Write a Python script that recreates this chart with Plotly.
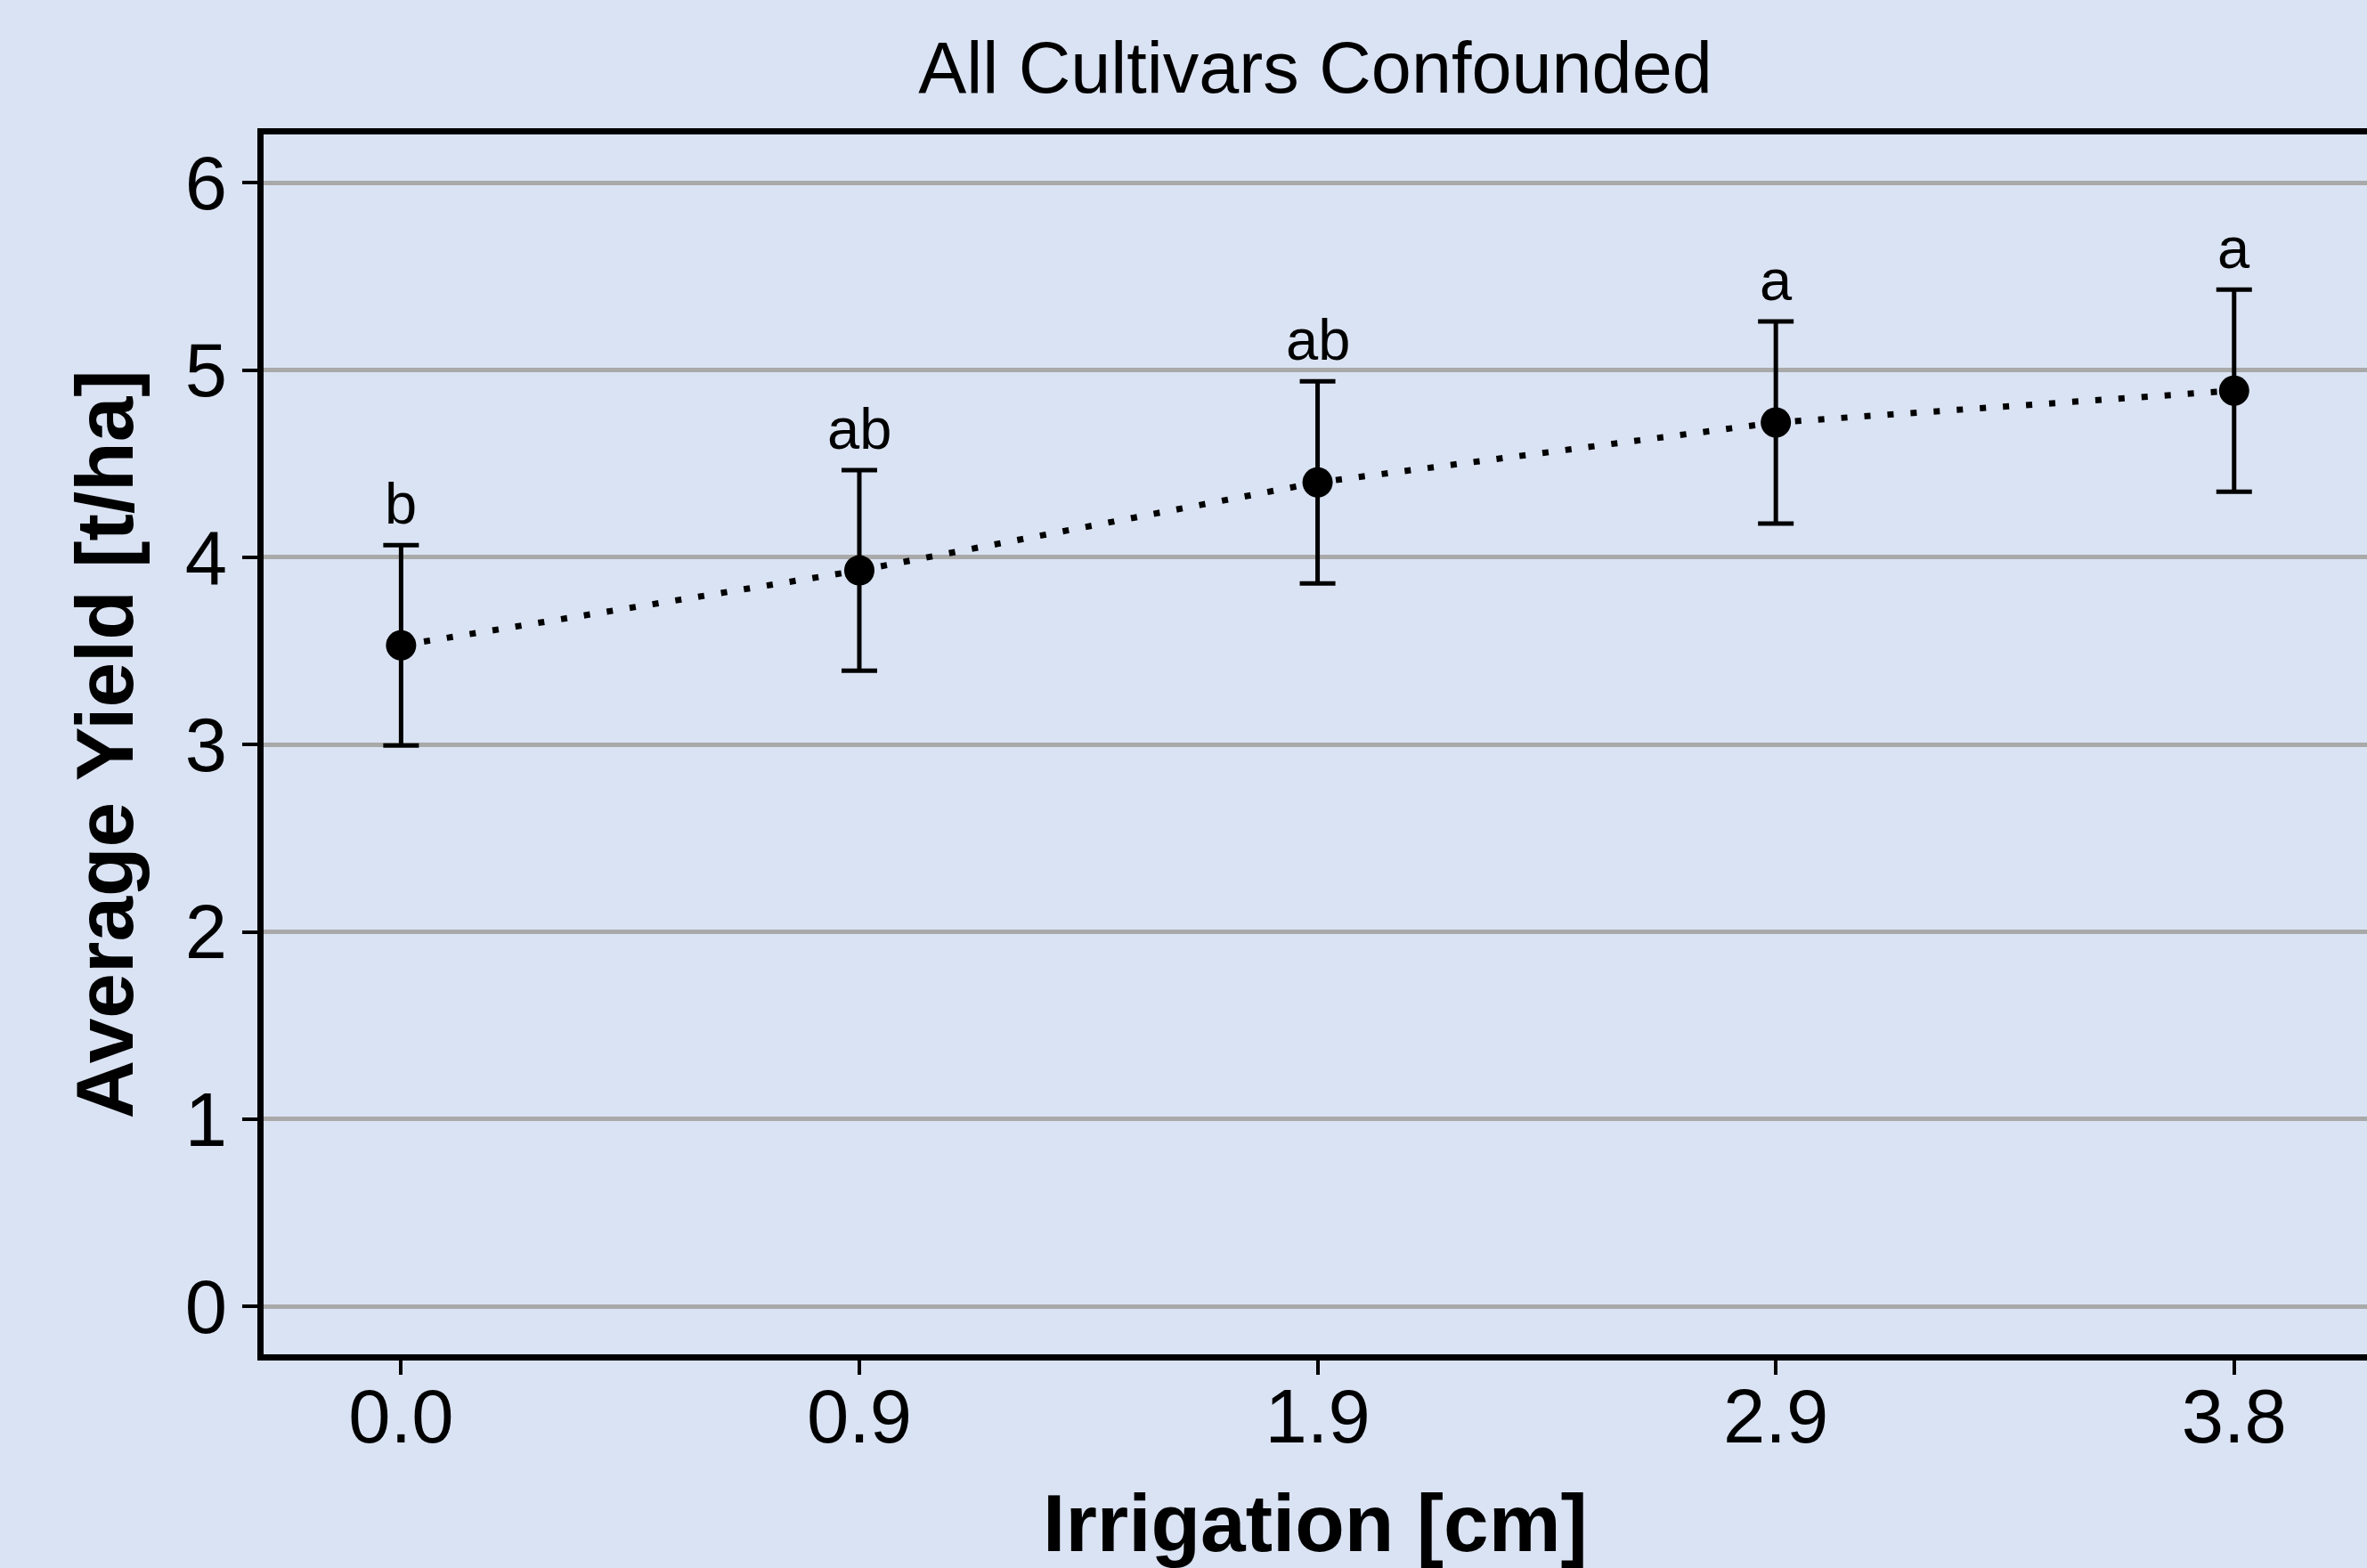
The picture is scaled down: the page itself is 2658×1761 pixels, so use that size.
import plotly.graph_objects as go

# ---- data ----
irrigation_labels = ["0.0", "0.9", "1.9", "2.9", "3.8"]
mean_yield = [3.53, 3.93, 4.40, 4.72, 4.89]
yield_error = [0.535, 0.535, 0.54, 0.54, 0.54]
group_letters = ["b", "ab", "ab", "a", "a"]
y_tick_values = [0, 1, 2, 3, 4, 5, 6]

BG = "#DAE3F3"
FONT = "Liberation Sans, Arial, Helvetica, sans-serif"

fig = go.Figure()

fig.add_trace(go.Scatter(
    x=irrigation_labels,
    y=mean_yield,
    mode="lines+markers",
    line=dict(color="black", width=7, dash="7px,19px"),
    marker=dict(color="black", size=34, symbol="circle"),
    error_y=dict(type="data", array=yield_error, visible=True,
                 color="black", thickness=5, width=20),
    showlegend=False,
    hoverinfo="x+y",
))

# letters above the error bars (category index positions)
for i, (m, e, letter) in enumerate(zip(mean_yield, yield_error, group_letters)):
    fig.add_annotation(
        x=i, y=m + e, text=letter, showarrow=False,
        xref="x", yref="y", yanchor="bottom", yshift=8,
        font=dict(family=FONT, size=65, color="black"),
    )

fig.update_layout(
    width=2658, height=1761,
    paper_bgcolor=BG, plot_bgcolor=BG,
    margin=dict(l=296, r=0, t=151, b=240, pad=0),
    font=dict(family=FONT, color="black"),
    title=dict(
        text="All Cultivars Confounded",
        font=dict(family=FONT, size=81, color="black"),
        x=(296 + 2658) / 2 / 2658, xanchor="center",
        y=1 - 76 / 1761, yanchor="middle", yref="container",
    ),
)

fig.update_xaxes(
    type="category",
    categoryorder="array", categoryarray=irrigation_labels,
    range=[-0.30, 4.29],
    showline=True, linecolor="black", linewidth=7, mirror=True,
    ticks="outside", ticklen=16, tickwidth=4, tickcolor="black",
    tickfont=dict(family=FONT, size=85, color="black"),
    ticklabelstandoff=-26,
    showgrid=False, zeroline=False, automargin=False,
    title=dict(text="<b>Irrigation [cm]</b>",
               font=dict(family=FONT, size=91, color="black"),
               standoff=51),
)

fig.update_yaxes(
    range=[-0.256, 6.258],
    tickmode="array", tickvals=y_tick_values,
    ticktext=[str(v) for v in y_tick_values],
    showline=True, linecolor="black", linewidth=7, mirror=True,
    ticks="outside", ticklen=17, tickwidth=4, tickcolor="black",
    tickfont=dict(family=FONT, size=85, color="black"),
    showgrid=True, gridcolor="#A9A9A9", gridwidth=5,
    zeroline=False, automargin=False,
    title=dict(text="<b>Average Yield [t/ha]</b>",
               font=dict(family=FONT, size=91, color="black"),
               standoff=30),
)

fig.write_html(
    "out.html",
    config={"displayModeBar": False},
    post_script="document.body.style.margin='0';document.body.style.padding='0';",
)
